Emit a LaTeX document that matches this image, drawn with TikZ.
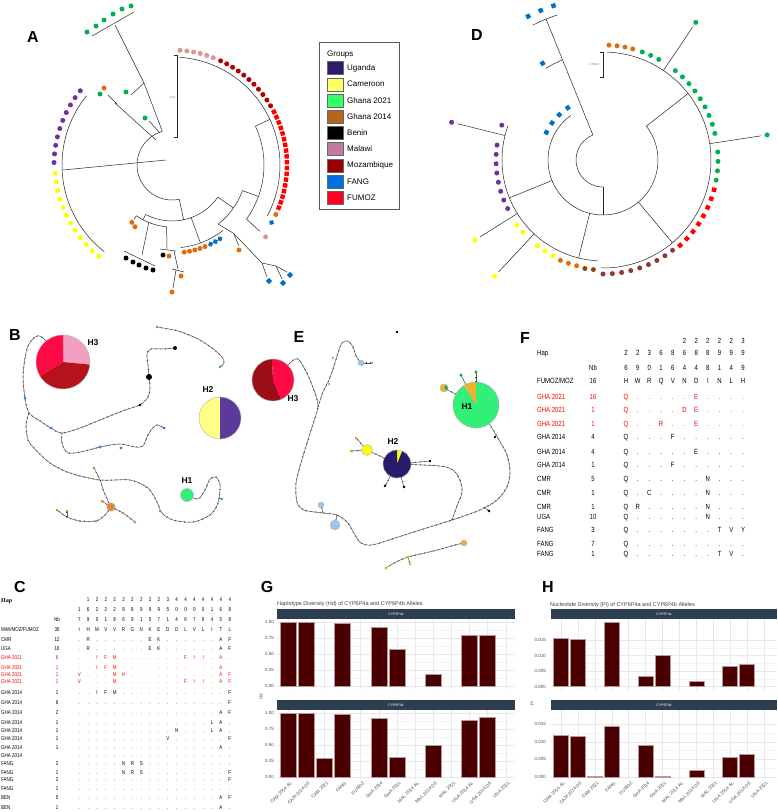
\documentclass[tikz,border=0pt]{standalone}
\usepackage{fontspec}
\setmainfont{Liberation Sans}
\newfontfamily\narrowfont[FakeStretch=0.8]{Liberation Sans}
\newfontfamily\hapfont{Liberation Serif}

\definecolor{uga}{HTML}{2E1A6E}
\definecolor{cmr}{HTML}{FFFF66}
\definecolor{gha21}{HTML}{33FF66}
\definecolor{gha14}{HTML}{B5651D}
\definecolor{mwi}{HTML}{C27BA0}
\definecolor{moz}{HTML}{990000}
\definecolor{fang}{HTML}{0070E0}
\definecolor{fumoz}{HTML}{FF0022}
\definecolor{tpurple}{HTML}{7030A0}
\definecolor{tyellow}{HTML}{FFFF00}
\definecolor{tgreen}{HTML}{00B050}
\definecolor{torange}{HTML}{E36C0A}
\definecolor{tpink}{HTML}{D99694}
\definecolor{tmoz}{HTML}{B00000}
\definecolor{tred}{HTML}{FF0000}
\definecolor{tblue}{HTML}{0070C0}
\definecolor{tmaroon}{HTML}{943634}
\definecolor{tbrown}{HTML}{8B4513}
\definecolor{npink}{HTML}{F2A0C0}
\definecolor{ndred}{HTML}{B5121B}
\definecolor{nred}{HTML}{FF0A45}
\definecolor{nyellow}{HTML}{FFFF88}
\definecolor{npurple}{HTML}{5B3A9A}
\definecolor{ngreen}{HTML}{33EE77}
\definecolor{norange}{HTML}{E08A2A}
\definecolor{nblue}{HTML}{2E86DE}
\definecolor{lblue}{HTML}{9DC3E6}
\definecolor{navy}{HTML}{2A1A6A}
\definecolor{gold}{HTML}{F0B030}
\definecolor{barc}{HTML}{4A0000}
\definecolor{stripc}{HTML}{2C3E50}

\newcommand{\hapslice}[5]{\fill[#5] (#1) -- ++(#3:#2) arc[start angle=#3,end angle=#4,radius=#2] -- cycle;}
\newcommand{\tipsq}[3]{\fill[#3,shift={(#1:#2)},rotate={0-(#1)}] (-2.2,-2.2) rectangle (2.2,2.2);}
\newcommand{\tipdm}[3]{\fill[#3,shift={(#1:#2)},rotate={45-(#1)}] (-2,-2) rectangle (2,2);}

\tikzset{
  branch/.style={draw=black!85, line width=0.5pt},
  net/.style={draw=gray!70!black, line width=0.5pt,
    postaction={draw=gray!45!black, line width=1.3pt, dash pattern=on 0.6pt off 4pt}},
  panellab/.style={font=\fontsize{16}{16}\selectfont\bfseries, inner sep=0pt},
  haplab/.style={font=\fontsize{8.5}{9}\selectfont\bfseries, inner sep=0pt},
  legsw/.style={draw=black!60, line width=0.4pt},
  leglab/.style={font=\fontsize{8}{9}\selectfont, anchor=west, inner sep=0pt},
  tabF/.style={font=\narrowfont\fontsize{7.5}{8}\selectfont, inner sep=0pt, text height=5.4pt, text depth=0pt},
  tabC/.style={font=\narrowfont\fontsize{5.6}{6}\selectfont, inner sep=0pt, text height=4pt, text depth=0pt},
  striplab/.style={font=\fontsize{3.5}{4}\selectfont, text=white, inner sep=0pt},
  ticklab/.style={font=\fontsize{4.5}{5}\selectfont, text=gray!60!black, inner sep=0pt, anchor=east},
  xlab/.style={font=\fontsize{4.6}{5}\selectfont, text=gray!60!black, inner sep=0pt, rotate=45, anchor=north east},
  charttitle/.style={font=\fontsize{5.5}{6}\selectfont, text=gray!50!black, inner sep=0pt, anchor=west},
  gridline/.style={draw=gray!18, line width=0.4pt},
  barbox/.style={fill=barc, draw=barc!40!white, line width=0.4pt},
  pieline/.style={draw=gray!60, line width=0.4pt},
}

\begin{document}
\begin{tikzpicture}[x=1pt,y=-1pt]
\useasboundingbox (0,0) rectangle (778,812);
\fill[white] (0,0) rectangle (778,812);

\node[panellab] (labA) at (33,37) {A};
\node[panellab] (labB) at (15,335) {B};
\node[panellab] (labC) at (20,587) {C};
\node[panellab] (labD) at (477,35) {D};
\node[panellab] (labE) at (299,337) {E};
\node[panellab] (labF) at (525,338) {F};
\node[panellab] (labG) at (267,587) {G};
\node[panellab] (labH) at (548,587) {H};

% tree A
\begin{scope}[shift={(172,165)}]
\draw[branch] (-106:35) arc[start angle=-106,end angle=-282,radius=35];
\draw[branch] (78:35) -- (78:56);
\draw[branch] (118:56) arc[start angle=118,end angle=35,radius=56];
\draw[branch] (118:56) -- (118:62);
\draw[branch] (125:62) arc[start angle=125,end angle=95,radius=62];
\draw[branch] (125:62) -- (125:66);
\draw[branch] (70:56) -- (70:83);
\draw[branch] (84:83) arc[start angle=84,end angle=52,radius=83];
\draw[branch] (35:56) -- (35:75);
\draw[branch] (52:75) arc[start angle=52,end angle=20,radius=75];
\draw[branch] (52:75) -- (48:92);
\draw[branch] (20:75) -- (20:92);
\draw[branch] (36:92) arc[start angle=36,end angle=-25,radius=92];
\draw[branch] (-25:92) -- (-25:108);
\draw[branch] (36:92) -- (37:110);
\draw[branch] (-86:108) arc[start angle=-86,end angle=28,radius=108];
\draw[branch] (219:110) arc[start angle=219,end angle=128,radius=110];
\foreach \a in {-86,-82.6,...,-68} {\fill[tpink] (\a:115) circle (2.5);}
\foreach \a in {-65,-61.6,...,-30} {\fill[tmoz] (\a:115) circle (2.5);}
\foreach \a in {-27.5,-24.6,...,22} {\tipsq{\a}{115}{tred}}
\fill[torange] (25.5:115) circle (2.5);
\tipdm{30}{115}{tblue}
\foreach \a in {219,214.8,...,180} {\fill[tpurple] (\a:118) circle (2.5);}
\foreach \a in {176,171.7,...,128} {\fill[tyellow] (\a:117) circle (2.5);}
\foreach \a in {82,78.5,...,67} {\fill[torange] (\a:88) circle (2.5);}
\foreach \a in {64,60.5,...,56} {\tipdm{\a}{88}{tblue}}
\fill[tpink] (37.5:118) circle (2.5);
\fill[torange] (125:70) circle (2.5);
\fill[torange] (121:72) circle (2.5);
\end{scope}
\draw[branch] (166,160) -- (63,170);
\draw[branch] (162.4,131.4) -- (144,83) -- (115,25);
\draw[branch] (92,36) -- (134,12);
\draw[branch] (144,83) -- (131,95);
\draw[branch] (160,133) -- (149,121);
\draw[branch] (156,140) -- (115,103);
\draw[branch] (108,95) -- (117,104);
\draw[branch] (148.8,222.5) -- (142,255);
\draw[branch] (124,251) -- (155,266);
\draw[branch] (166.6,226.8) -- (167,249);
\draw[branch] (160,249) -- (176,251);
\draw[branch] (174,251) -- (178,269);
\draw[branch] (172,269) -- (184,272);
\draw[branch] (176,270) -- (173,288);
\draw[branch] (233.6,233.4) -- (239,246);
\draw[branch] (233.6,233.4) -- (262,263);
\draw[branch] (262,263) -- (267,277);
\draw[branch] (262,263) -- (276,266);
\draw[branch] (276,266) -- (282,279);
\draw[branch] (276,266) -- (287,272);
\foreach \p in {(87,32),(96,26),(104,20),(113,14),(122,9),(131,6),(126,92),(145,118),(100,94)}
  {\fill[tgreen] \p circle (2.5);}
\foreach \p in {(104,88),(169,256),(181,276),(172,292),(239,250)}
  {\fill[torange] \p circle (2.5);}
\foreach \p in {(126,258),(133,262),(139,265),(146,268),(153,270),(163,255)}
  {\fill[black] \p circle (2.5);}
\foreach \p in {(269,281),(283,283),(290,275)}
  {\fill[tblue,shift={\p},rotate=45] (-2.2,-2.2) rectangle (2.2,2.2);}
\draw[branch] (174,55) -- (177,55) -- (177,137) -- (174,137);
\node[font=\fontsize{3}{3}\selectfont, text=gray, inner sep=0pt, anchor=east] (sbA) at (176,97) {0.01};

% legend
\draw[draw=gray!70!black, line width=1pt, fill=white] (319,42) rectangle (399,209);
\node[leglab] (grp) at (327,55) {Groups};
\foreach \c/\t/\yy in {uga/Uganda/68, cmr/Cameroon/84.2, gha21/Ghana 2021/100.4, gha14/Ghana 2014/116.6,
  black/Benin/132.8, mwi/Malawi/149, moz/Mozambique/165.2, fang/FANG/181.4, fumoz/FUMOZ/197.6} {
  \draw[legsw, fill=\c] (327,\yy-6.5) rectangle (343,\yy+6.5);
  \node[leglab] at (347,\yy) {\t};
}

% tree D
\begin{scope}[shift={(603,160)}]
\draw[branch] (-112:27) arc[start angle=-112,end angle=-270,radius=27];
\draw[branch] (90:27) -- (90:55);
\draw[branch] (234:55) arc[start angle=234,end angle=-38,radius=55];
\draw[branch] (158:55) -- (158:101);
\draw[branch] (104:55) -- (104:101);
\draw[branch] (50:55) -- (50:108);
\draw[branch] (-38:55) -- (-38:108);
\draw[branch] (200:101) arc[start angle=200,end angle=93,radius=101];
\draw[branch] (91:108) arc[start angle=91,end angle=-88,radius=108];
\draw[branch] (194:101) -- (194:150);
\draw[branch] (148:101) -- (148:145);
\draw[branch] (133:101) -- (133:153);
\draw[branch] (-56:108) -- (-56:160);
\draw[branch] (-8.7:108) -- (-8.7:160);
\draw[branch] (-112:27) -- (-112:152);
\draw[branch] (-117.5:152) arc[start angle=-117.5,end angle=-107.5,radius=152];
\draw[branch] (-122:108) arc[start angle=-122,end angle=-112,radius=108];
\fill[tpurple] (194:156) circle (2.5);
\fill[tyellow] (148:151) circle (2.5);
\fill[tyellow] (133:159) circle (2.5);
\fill[tgreen] (-56:166) circle (2.5);
\fill[tgreen] (-8.7:166) circle (2.5);
\foreach \a in {-117.5,-112.6,-107.8} {\tipsq{\a}{162}{tblue}}
\tipsq{-122}{114}{tblue}
\foreach \a in {-87,-83,-79,-75} {\fill[torange] (\a:115) circle (2.5);}
\foreach \a in {-70,-65.5,-61} {\fill[tgreen] (\a:115) circle (2.5);}
\foreach \a in {-51,-46.3,...,-12} {\fill[tgreen] (\a:115) circle (2.5);}
\foreach \a in {-4,0.7,...,11} {\fill[tgreen] (\a:115) circle (2.5);}
\foreach \a in {15,19.7,...,49} {\tipsq{\a}{115}{tred}}
\foreach \a in {52.4,57.1,...,91} {\fill[tmaroon] (\a:114) circle (2.5);}
\foreach \a in {95,99.5} {\fill[tbrown] (\a:110) circle (2.5);}
\foreach \a in {104,108.5,113} {\fill[torange] (\a:109) circle (2.5);}
\foreach \a in {117.5,122.5,127.5,138,143} {\fill[tyellow] (\a:108) circle (2.5);}
\foreach \a in {153,158,...,189} {\fill[tpurple] (\a:107) circle (2.5);}
\fill[tpurple] (199:107) circle (2.5);
\foreach \a in {206,216,226,236} {\tipsq{\a}{63}{tblue}}
\end{scope}
\draw[branch] (600,52) -- (603,52) -- (603,77) -- (600,77);
\node[font=\fontsize{3}{3}\selectfont, text=gray, inner sep=0pt, anchor=east] (sbD) at (599,64) {0.0010};

% network B
\coordinate (hb3) at (63,362);
\coordinate (hb2) at (220,418);
\coordinate (hb1) at (187,495);
\coordinate (bj1) at (29,413);
\coordinate (bj2) at (62,433);
\coordinate (bj3) at (100,480);
\coordinate (bo) at (111,507);
\draw[net] plot[smooth] coordinates {(hb3) (43,338) (35,337) (28,346) (25,358) (23,377) (25,398) (bj1) (40,421) (51,428) (bj2) (80,428) (100,420) (125,410) (140,405) (148,397) (150,388) (149,377) (148,365) (147,354) (151,349) (163,349) (175,348)};
\draw[net] plot[smooth] coordinates {(bj2) (62,443) (68,453) (85,451) (100,447) (120,444) (135,447) (143,446) (147,437) (151,430) (157,425) (164,428)};
\draw[net] plot[smooth] coordinates {(bj1) (26,425) (28,440) (34,448) (50,463) (70,473) (bj3) (130,480) (148,488) (157,502) (162,513) (173,520) (193,522) (210,515) (218,503) (220,485) (216,477) (210,479) (205,490) (198,499) (hb1)};
\draw[net] plot[smooth] coordinates {(94,468) (bj3) (104,492) (bo)};
\draw[net] (bo) -- (102,501);
\draw[net] plot[smooth] coordinates {(bo) (123,513) (135,522)};
\draw[net] plot[smooth] coordinates {(bo) (105,515) (96,521) (80,521) (67,517) (57,510)};
\draw[net] (67,517) -- (67,511);
\draw[net] plot[smooth] coordinates {(157,327) (178,331) (198,339) (212,348) (222,357) (224,363) (220,367)};
\draw[net] (219,498) -- (222,499);
\foreach \p in {(25,398),(51,428),(100,447),(121,448),(164,428)} {\fill[nblue] \p circle (1.6);}
\fill[black] (140,405) circle (1.3);
\fill[black] (149,377) circle (3);
\fill[black] (175,348) circle (2);
\foreach \p in {(94,468),(102,501),(123,513),(135,522),(96,521),(80,521),(57,510),(67,511),(160,511)} {\fill[norange] \p circle (1.5);}
\filldraw[fill=norange, draw=gray!60] (bo) circle (4.2);
\foreach \p in {(220,367),(157,327),(222,499)} {\fill[ngreen!80!black] \p circle (1.4);}
\hapslice{hb3}{27}{-90}{5.6}{npink}
\hapslice{hb3}{27}{5.6}{148.4}{ndred}
\hapslice{hb3}{27}{148.4}{270}{nred}
\draw[pieline] (hb3) circle (27);
\hapslice{hb2}{21}{90}{270}{nyellow}
\hapslice{hb2}{21}{-90}{90}{npurple}
\draw[pieline] (hb2) circle (21);
\filldraw[fill=ngreen, draw=gray!60] (hb1) circle (6.5);
\node[haplab] (tb3) at (93,343) {H3};
\node[haplab] (tb2) at (208,390) {H2};
\node[haplab] (tb1) at (187,481) {H1};

% network E
\coordinate (he3) at (273,380);
\coordinate (he2) at (397,464);
\coordinate (he1) at (476,405);
\coordinate (ej1) at (318,407);
\coordinate (ej2) at (452,520);
\draw[net] plot[smooth] coordinates {(he3) (295,359) (303,366) (310,380) (316,396) (ej1) (313,424) (307,443) (301,463) (296,483) (297,502) (304,510) (323,513) (337,515) (348,523) (355,535) (361,543) (372,545) (392,539) (420,530) (ej2) (480,510) (497,500) (507,487) (510,472) (507,455) (499,440) (490,425) (he1)};
\draw[net] plot[smooth] coordinates {(ej1) (323,392) (329,380) (334,366) (338,353) (342,343) (348,341) (353,347) (356,356) (361,363)};
\draw[net] (361,363) -- (372,363);
\draw[net] plot[smooth] coordinates {(ej2) (457,506) (462,492) (460,480) (453,470) (440,466) (he2)};
\draw[net] (he2) -- (430,461);
\draw[net] (he2) -- (385,486);
\draw[net] (he2) -- (404,487);
\draw[net] (he2) -- (367,450);
\draw[net] (367,450) -- (356,438);
\draw[net] (367,450) -- (351,451);
\draw[net] (he1) -- (461,375);
\draw[net] (he1) -- (476,372);
\draw[net] (he1) -- (444,388);
\draw[net] (323,513) -- (321,505);
\draw[net] (337,515) -- (335,525);
\draw[net] (484,507) -- (489,511);
\draw[net] plot[smooth] coordinates {(386,568) (396,562) (408,557) (425,553) (441,549) (455,545) (464,543)};
\draw[net] (408,557) -- (410,564);
\foreach \p in {(430,461),(385,486),(404,487),(495,437),(489,511),(397,332)} {\fill[black] \p circle (1.4);}
\filldraw[fill=lblue, draw=gray!60] (361,363) circle (3);
\filldraw[fill=lblue, draw=gray!60] (321,505) circle (3);
\filldraw[fill=lblue, draw=gray!60] (335,525) circle (5);
\foreach \p in {(372,363),(333,358),(329,384)} {\fill[lblue!70!gray] \p circle (1.4);}
\filldraw[fill=tyellow, draw=gray!60] (367,450) circle (5.5);
\foreach \p in {(356,438),(351,451)} {\fill[gold!70!olive] \p circle (1.5);}
\foreach \p in {(461,375),(476,372)} {\fill[tgreen] \p circle (1.6);}
\filldraw[fill=gold, draw=gray!60] (464,543) circle (3);
\foreach \p in {(408,557),(410,564),(386,568)} {\fill[gold] \p circle (1.6);}
\hapslice{he3}{21}{-93}{67}{nred}
\hapslice{he3}{21}{67}{267}{ndred!85!black}
\draw[pieline] (he3) circle (21);
\hapslice{he2}{14}{-90}{-68}{tyellow}
\hapslice{he2}{14}{-68}{270}{navy}
\draw[pieline] (he2) circle (14);
\hapslice{he1}{23}{-122}{-90}{gold}
\hapslice{he1}{23}{-90}{238}{ngreen}
\draw[pieline] (he1) circle (23);
\coordinate (hes) at (444,388);
\hapslice{hes}{4}{-60}{40}{tgreen}
\hapslice{hes}{4}{40}{300}{gold}
\draw[pieline] (hes) circle (4);
\node[haplab] (te3) at (293,399) {H3};
\node[haplab] (te2) at (393,442) {H2};
\node[haplab] (te1) at (467,407) {H1};

% table F
\node[tabF, anchor=west] (hapF) at (537,353) {Hap};
\node[tabF] (nbF) at (593,368) {Nb};
\foreach \t [count=\k] in {2,2,2,2,2,3} {\node[tabF] at ({626+11.7*(\k+4)},341) {\t};}
\foreach \t [count=\k] in {2,2,3,6,8,6,8,8,9,9,9} {\node[tabF] at ({626+11.7*(\k-1)},353) {\t};}
\foreach \t [count=\k] in {6,9,0,1,6,4,4,8,1,4,9} {\node[tabF] at ({626+11.7*(\k-1)},368) {\t};}
\foreach \nm/\nb/\sq/\cl/\yy in {
  {FUMOZ/MOZ}/16/{H,W,R,Q,V,N,D,I,N,L,H}/black/381,
  {GHA 2021}/16/{Q,.,.,.,.,.,E,.,.,.,.}/red/397,
  {GHA 2021}/1/{Q,.,.,.,.,D,E,.,.,.,.}/red/410,
  {GHA 2021}/1/{Q,.,.,R,.,.,E,.,.,.,.}/red/424,
  {GHA 2014}/4/{Q,.,.,.,F,.,.,.,.,.,.}/black/437,
  {GHA 2014}/4/{Q,.,.,.,.,.,E,.,.,.,.}/black/452,
  {GHA 2014}/1/{Q,.,.,.,F,.,.,.,.,.,.}/black/465,
  CMR/5/{Q,.,.,.,.,.,.,N,.,.,.}/black/479,
  CMR/1/{Q,.,C,.,.,.,.,N,.,.,.}/black/493,
  CMR/1/{Q,R,.,.,.,.,.,N,.,.,.}/black/507,
  UGA/10/{Q,.,.,.,.,.,.,N,.,.,.}/black/517,
  FANG/3/{Q,.,.,.,.,.,.,.,T,V,Y}/black/530,
  FANG/7/{Q,.,.,.,.,.,.,.,.,.,.}/black/544,
  FANG/1/{Q,.,.,.,.,.,.,.,T,V,.}/black/554} {
  \node[tabF, anchor=west, text=\cl] at (537,\yy) {\nm};
  \node[tabF, text=\cl] at (593,\yy) {\nb};
  \foreach \c [count=\k] in \sq {\node[tabF, text=\cl] at ({626+11.7*(\k-1)},\yy) {\c};}
}

% table C
\node[inner sep=0pt, anchor=west, font=\hapfont\fontsize{6}{6}\selectfont\bfseries] (hapC) at (1,601) {Hap};
\node[tabC] (nbC) at (57,619) {Nb};
\foreach \t [count=\k] in {1,2,2,2,2,2,2,2,2,3,4,4,4,4,4,4,4} {\node[tabC] at ({79.3+8.85*\k},599) {\t};}
\foreach \t [count=\k from 0] in {1,6,2,2,2,8,8,9,9,9,5,0,0,0,0,1,6,8} {\node[tabC] at ({79.3+8.85*\k},609) {\t};}
\foreach \t [count=\k from 0] in {7,9,0,1,8,6,9,1,5,7,1,4,6,7,9,4,5,8} {\node[tabC] at ({79.3+8.85*\k},619) {\t};}
\foreach \nm/\nb/\sq/\cl/\yy in {
  {MWI/MOZ/FUMOZ}/30/{I,H,M,V,V,R,G,N,K,E,D,D,L,V,L,I,T,L}/black/629,
  CMR/12/{.,R,.,.,.,.,.,.,E,K,.,.,.,.,.,.,A,F}/black/639,
  UGA/10/{.,R,.,.,.,.,.,.,E,K,.,.,.,.,.,.,A,F}/black/648,
  {GHA 2021}/6/{.,.,I,F,M,.,.,.,.,.,.,.,F,I,I,.,A,.}/red/657,
  {GHA 2021}/1/{.,.,I,F,M,.,.,.,.,.,.,.,.,.,.,.,A,.}/red/667,
  {GHA 2021}/1/{V,.,.,.,M,H,.,.,.,.,.,.,.,.,.,.,A,F}/red/674,
  {GHA 2021}/1/{V,.,.,.,M,.,.,.,.,.,.,.,F,I,I,.,A,F}/red/681,
  {GHA 2014}/1/{.,.,I,F,M,.,.,.,.,.,.,.,.,.,.,.,.,F}/black/692,
  {GHA 2014}/6/{.,.,.,.,.,.,.,.,.,.,.,.,.,.,.,.,.,F}/black/702,
  {GHA 2014}/2/{.,.,.,.,.,.,.,.,.,.,.,.,.,.,.,.,A,F}/black/712,
  {GHA 2014}/1/{.,.,.,.,.,.,.,.,.,.,.,.,.,.,.,L,A,.}/black/722,
  {GHA 2014}/1/{.,.,.,.,.,.,.,.,.,.,.,N,.,.,.,L,A,.}/black/730,
  {GHA 2014}/1/{.,.,.,.,.,.,.,.,.,.,V,.,.,.,.,.,.,F}/black/738,
  {GHA 2014}/1/{.,.,.,.,.,.,.,.,.,.,.,.,.,.,.,.,A,.}/black/747,
  {GHA 2014}/{}/{.,.,.,.,.,.,.,.,.,.,.,.,.,.,.,.,.,.}/black/755,
  FANG/2/{.,.,.,.,.,N,R,S,.,.,.,.,.,.,.,.,.,.}/black/763,
  FANG/1/{.,.,.,.,.,N,R,S,.,.,.,.,.,.,.,.,.,F}/black/772,
  FANG/2/{.,.,.,.,.,.,.,.,.,.,.,.,.,.,.,.,.,F}/black/779,
  FANG/1/{.,.,.,.,.,.,.,.,.,.,.,.,.,.,.,.,.,.}/black/788,
  BEN/5/{.,.,.,.,.,.,.,.,.,.,.,.,.,.,.,.,A,F}/black/797,
  BEN/1/{.,.,.,.,.,.,.,.,.,.,.,.,.,.,.,.,A,.}/black/807} {
  \node[tabC, anchor=west, text=\cl] at (1,\yy) {\nm};
  \node[tabC, text=\cl] at (57,\yy) {\nb};
  \foreach \c [count=\k from 0] in \sq {\node[tabC, text=\cl] at ({79.3+8.85*\k},\yy) {\c};}
}

% chart G
\node[charttitle] (titG) at (277,604) {Haplotype Diversity (Hd) of CYP6P4a and CYP6P4b Alleles};
\foreach \zz/\sc/\tp/\gene in {685.7/63.4/619/CYP6P4a, 776.7/64/710/CYP6P4b} {
  \fill[stripc] (277,\tp-10) rectangle (515,\tp);
  \node[striplab] at (396,\tp-5) {\gene};
  \foreach \t in {0.125,0.375,0.625,0.875} {\draw[draw=gray!9, line width=0.3pt] (277,{\zz-\sc*\t}) -- (515,{\zz-\sc*\t});}
  \foreach \t/\lab in {0/0.00,0.25/0.25,0.5/0.50,0.75/0.75,1/1.00} {
    \draw[gridline] (277,{\zz-\sc*\t}) -- (515,{\zz-\sc*\t});
    \node[ticklab] at (274,{\zz-\sc*\t}) {\lab};
  }
  \foreach \i in {0,...,12} {\draw[gridline] ({288+18.15*\i},\tp) -- ({288+18.15*\i},{\zz+3});}
}
\foreach \i/\v in {0/1.00,1/1.00,3/0.98,5/0.93,6/0.58,8/0.18,10/0.80,11/0.80}
  {\filldraw[barbox] ({288+18.15*\i-8},685.7) rectangle ({288+18.15*\i+8},{685.7-63.4*\v});}
\foreach \i/\v in {0/1.00,1/0.99,2/0.29,3/0.98,5/0.92,6/0.31,8/0.50,10/0.88,11/0.93}
  {\filldraw[barbox] ({288+18.15*\i-8},776.7) rectangle ({288+18.15*\i+8},{776.7-64*\v});}
\node[ticklab, anchor=center, rotate=90] (ytG) at (261,697) {Hd};
\foreach \lab [count=\i from 0] in {CAM 2014 AL,CAM 2014 DE,CAM 2021,FANG,FUMOZ,GHA 2014,GHA 2021,MAL 2014 AL,MAL 2014 DE,MAL 2021,UGA 2014 AL,UGA 2014 DE,UGA 2021}
  {\node[xlab] at ({288+18.15*\i+2},781) {\lab};}

% chart H
\node[charttitle] (titH) at (550,605) {Nucleotide Diversity (Pi) of CYP6P4a and CYP6P4b Alleles};
\foreach \zz/\sc/\tp/\gene in {686.5/3.1/619/CYP6P4a, 776.7/3.5/710/CYP6P4b} {
  \fill[stripc] (551,\tp-10) rectangle (777,\tp);
  \node[striplab] at (664,\tp-5) {\gene};
  \foreach \t in {2.5,7.5,12.5} {\draw[draw=gray!9, line width=0.3pt] (551,{\zz-\sc*\t}) -- (777,{\zz-\sc*\t});}
  \foreach \t/\lab in {0/0.000,5/0.005,10/0.010,15/0.015} {
    \draw[gridline] (551,{\zz-\sc*\t}) -- (777,{\zz-\sc*\t});
    \node[ticklab] at (546,{\zz-\sc*\t}) {\lab};
  }
  \foreach \i in {0,...,12} {\draw[gridline] ({561+16.9*\i},\tp) -- ({561+16.9*\i},{\zz+3});}
}
\foreach \i/\v in {0/15.6,1/15.3,3/20.6,5/3.4,6/10.2,8/1.8,10/6.6,11/7.2}
  {\filldraw[barbox] ({561+16.9*\i-7.5},686.5) rectangle ({561+16.9*\i+7.5},{686.5-3.1*\v});}
\foreach \i/\v in {0/12.0,1/11.6,2/0.2,3/14.3,5/9.1,6/0.15,8/1.9,10/5.7,11/6.4}
  {\filldraw[barbox] ({561+16.9*\i-7.5},776.7) rectangle ({561+16.9*\i+7.5},{776.7-3.5*\v});}
\node[ticklab, anchor=center, rotate=90] (ytH) at (532,703) {Pi};
\foreach \lab [count=\i from 0] in {CAM 2014 AL,CAM 2014 DE,CAM 2021,FANG,FUMOZ,GHA 2014,GHA 2021,MAL 2014 AL,MAL 2014 DE,MAL 2021,UGA 2014 AL,UGA 2014 DE,UGA 2021}
  {\node[xlab] at ({561+16.9*\i+2},781) {\lab};}
\end{tikzpicture}
\end{document}
